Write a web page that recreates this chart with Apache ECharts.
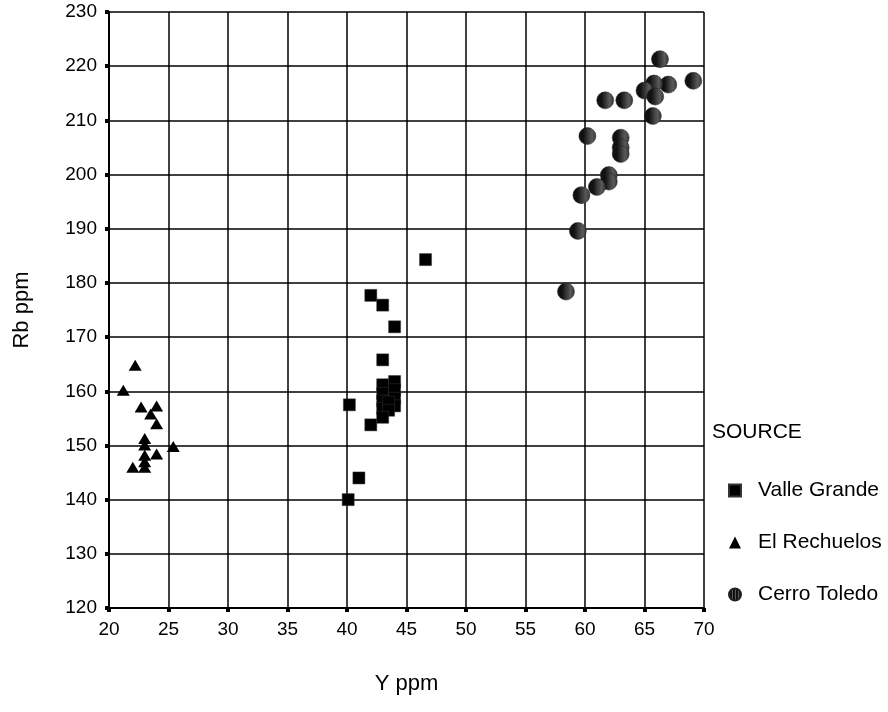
<!DOCTYPE html>
<html>
<head>
<meta charset="utf-8">
<script src="https://cdn.jsdelivr.net/npm/echarts@6/dist/echarts.min.js"></script>
<style>
  html, body { margin: 0; padding: 0; background: #fff; }
  #chart { width: 888px; height: 712px; }
</style>
</head>
<body>
<div id="chart"></div>
<script>
// Y ppm / Rb ppm pairs
const valleGrande = [
  [46.6, 184.3], [42.0, 177.7], [43.0, 175.9], [44.0, 171.9], [43.0, 165.8],
  [43.0, 161.2], [44.0, 161.8], [43.0, 159.6], [44.0, 160.3], [43.0, 158.2],
  [44.0, 158.7], [43.0, 156.8], [44.0, 157.3], [43.5, 158.0], [43.5, 156.5],
  [43.0, 155.2], [42.0, 153.8], [40.2, 157.5], [41.0, 144.0], [40.1, 140.0]
];
const elRechuelos = [
  [22.2, 164.8], [21.2, 160.2], [22.7, 157.1], [24.0, 157.3], [23.5, 155.8],
  [24.0, 154.0], [23.0, 151.3], [23.0, 150.1], [25.4, 149.8], [23.0, 148.2],
  [24.0, 148.4], [23.0, 147.0], [23.0, 146.0], [22.0, 146.0]
];
const cerroToledo = [
  [66.3, 221.3], [69.1, 217.3], [67.0, 216.6], [65.8, 216.8], [65.0, 215.5],
  [65.9, 214.4], [61.7, 213.7], [63.3, 213.7], [65.7, 210.8], [60.2, 207.1],
  [63.0, 206.8], [63.0, 205.0], [63.0, 203.8], [62.0, 199.9], [62.0, 198.7],
  [61.0, 197.7], [59.7, 196.2], [59.4, 189.6], [58.4, 178.4]
];
const seriesNames = ['Valle Grande', 'El Rechuelos', 'Cerro Toledo'];

// striped fill for the Cerro Toledo dots
const stripe = document.createElement('canvas');
stripe.width = 3; stripe.height = 3;
const sctx = stripe.getContext('2d');
sctx.fillStyle = '#111';
sctx.fillRect(0, 0, 3, 3);
sctx.fillStyle = '#5a5a5a';
sctx.fillRect(0, 0, 1, 3);

const chart = echarts.init(document.getElementById('chart'));
const font = 'Liberation Sans, Arial, sans-serif';

const axisCommon = {
  nameLocation: 'middle',
  nameTextStyle: { fontSize: 22, color: '#000', fontFamily: font },
  axisLine: { show: true, lineStyle: { color: '#000', width: 2 } },
  axisTick: { show: true, length: 4, lineStyle: { color: '#000', width: 4 } },
  axisLabel: { fontSize: 19, color: '#000', margin: 12, fontFamily: font },
  splitLine: { show: true, lineStyle: { color: '#000', width: 1.5 } }
};

const option = {
  animation: false,
  textStyle: { fontFamily: font },
  grid: {
    left: 109, right: 184, top: 12, bottom: 104, show: false,
    containLabel: false, outerBoundsMode: 'none'
  },
  graphic: [{
    type: 'text',
    left: 712, top: 422,
    style: { text: 'SOURCE', fontSize: 21, fontFamily: font, fill: '#000' }
  }],
  legend: {
    orient: 'vertical',
    left: 723, top: 475,
    itemGap: 31,
    itemWidth: 12, itemHeight: 12,
    textStyle: { fontSize: 21, color: '#000', fontFamily: font, padding: [0, 0, 0, 12] },
    data: [
      { name: seriesNames[0], icon: 'rect' },
      { name: seriesNames[1], icon: 'triangle' },
      { name: seriesNames[2], icon: 'circle' }
    ]
  },
  xAxis: Object.assign({}, axisCommon, {
    type: 'value', min: 20, max: 70, interval: 5,
    name: 'Y ppm', nameGap: 65
  }),
  yAxis: Object.assign({}, axisCommon, {
    type: 'value', min: 120, max: 230, interval: 10,
    name: 'Rb ppm', nameGap: 76
  }),
  series: [
    {
      name: seriesNames[0], type: 'scatter', data: valleGrande,
      symbol: 'rect', symbolSize: 12,
      itemStyle: { color: '#000', borderColor: '#333', borderWidth: 0.5, opacity: 1 }
    },
    {
      name: seriesNames[1], type: 'scatter', data: elRechuelos,
      symbol: 'triangle', symbolSize: [13, 11],
      itemStyle: { color: '#000', opacity: 1 }
    },
    {
      name: seriesNames[2], type: 'scatter', data: cerroToledo,
      symbol: 'circle', symbolSize: 17,
      itemStyle: { color: { image: stripe, repeat: 'repeat' }, borderColor: '#222', borderWidth: 0.5, opacity: 1 }
    }
  ]
};

chart.setOption(option);
</script>
</body>
</html>
